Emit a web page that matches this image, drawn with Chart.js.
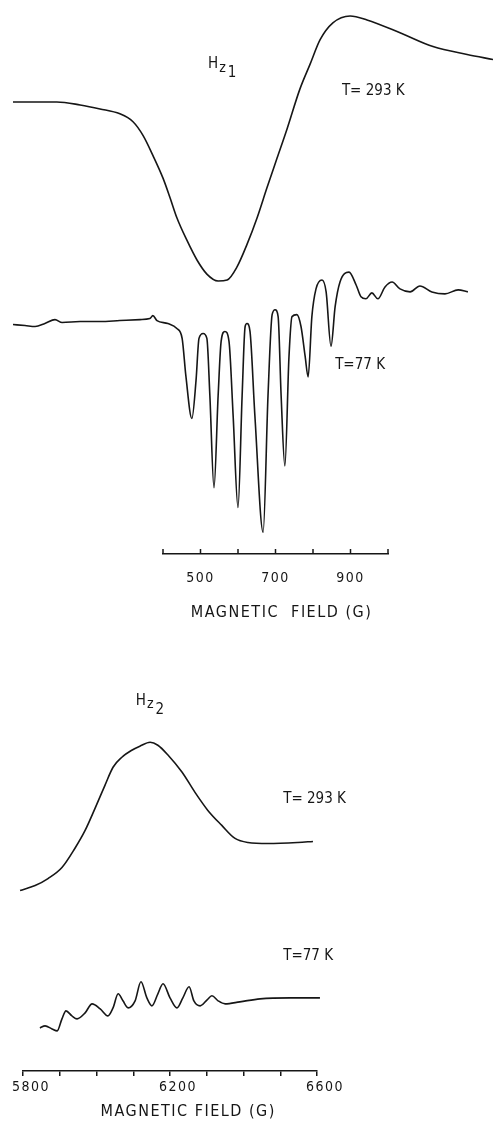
<!DOCTYPE html>
<html>
<head>
<meta charset="utf-8">
<title>EPR spectra Hz1 / Hz2</title>
<script src="https://cdn.jsdelivr.net/npm/chart.js@4.4.1/dist/chart.umd.min.js"></script>
<style>
  html, body { margin: 0; padding: 0; background: #fff; }
  body { width: 493px; height: 1121px; position: relative; overflow: hidden; }
  .panel { position: absolute; left: 0; width: 493px; }
  #top { top: 0; height: 640px; }
  #bottom { top: 640px; height: 481px; }
</style>
</head>
<body>
<div class="panel" id="top"><canvas id="hz1"></canvas></div>
<div class="panel" id="bottom"><canvas id="hz2"></canvas></div>
<script>
// Hz1 region, field in gauss, signal in arbitrary units (baseline = 0)
const hz1Field293 = [0, 117, 179, 232, 285, 320, 347, 373, 400, 419, 437, 464, 491, 517, 547, 571, 597, 624, 651, 677, 704, 731, 765, 792, 819, 853, 899, 944, 1032, 1120, 1211, 1280];
const hz1Signal293 = [0, 0, -0.3, -0.7, -1.2, -2.0, -3.4, -5.4, -7.7, -9.7, -11.7, -14.0, -16.0, -17.4, -18.1, -18.0, -16.7, -14.4, -11.7, -8.7, -5.7, -2.7, 1.3, 3.8, 6.3, 8.0, 8.7, 8.3, 7.0, 5.6, 4.8, 4.3];

const hz1Field77 = [0, 32, 59, 85, 112, 131, 179, 232, 285, 339, 365, 373, 384, 413, 437, 451, 461, 477, 488, 496, 507, 517, 525, 536, 547, 555, 565, 576, 587, 600, 611, 619, 624, 632, 645, 667, 680, 691, 699, 707, 715, 725, 736, 744, 757, 768, 779, 787, 797, 808, 824, 835, 848, 859, 872, 896, 915, 928, 941, 957, 973, 992, 1011, 1032, 1059, 1085, 1117, 1152, 1187, 1213];
const hz1Signal77 = [-0.3, -0.4, -0.5, -0.2, 0.2, -0.1, 0, 0, 0.1, 0.2, 0.3, 0.6, 0.1, -0.2, -0.7, -1.7, -5.5, -9.8, -6.0, -1.7, -1.2, -1.7, -7.5, -16.8, -7.5, -2.0, -1.0, -2.0, -9.5, -18.8, -7.5, -0.5, -0.2, -1.0, -9.5, -21.3, -7.5, 0.7, 1.2, 0.5, -7.5, -14.6, -3.5, 0.5, 0.7, -0.5, -3.5, -5.6, 0.5, 3.3, 4.2, 3.0, -2.5, 1.5, 4.0, 5.0, 3.7, 2.5, 2.3, 2.9, 2.3, 3.5, 4.0, 3.3, 3.0, 3.6, 3.0, 2.8, 3.2, 3.0];

// Hz2 region
const hz2Field293 = [5792, 5833, 5868, 5906, 5941, 5969, 5996, 6023, 6045, 6069, 6096, 6118, 6146, 6167, 6195, 6233, 6268, 6303, 6341, 6377, 6412, 6467, 6548, 6589];
const hz2Signal293 = [-4.7, -4.2, -3.5, -2.4, -0.5, 1.3, 3.5, 5.8, 7.6, 8.6, 9.3, 9.7, 10.1, 9.8, 8.8, 7.1, 5.1, 3.3, 1.8, 0.5, 0.1, 0, 0.1, 0.2];

const hz2Field77 = [5846, 5860, 5879, 5893, 5906, 5917, 5933, 5947, 5969, 5988, 6010, 6031, 6045, 6059, 6072, 6086, 6105, 6121, 6137, 6151, 6167, 6181, 6200, 6219, 6235, 6252, 6265, 6282, 6301, 6314, 6331, 6350, 6390, 6445, 6527, 6608];
const hz2Signal77 = [-3.0, -2.8, -3.1, -3.3, -2.1, -1.3, -1.8, -2.1, -1.5, -0.6, -1.1, -1.8, -1.0, 0.4, -0.3, -1.0, -0.3, 1.6, 0, -0.8, 0.4, 1.4, 0, -1.0, 0, 1.1, -0.3, -0.8, -0.2, 0.2, -0.3, -0.6, -0.4, -0.1, 0, 0];

// axis spans (the traces run past them) and the printed tick labels
const hz1Axis = [400, 1000];
const hz2Axis = [5800, 6600];
const hz1TickLabels = [500, 700, 900];
const hz2TickLabels = [5800, 6200, 6600];

// text notes: [text, subscripts, field, level, axis]
const hz1Notes = [
    ['H', ['z', '1'], 520, 3.8, 'y293'],
    ['T= 293 K', [], 877, 1.1, 'y293'],
    ['T=77 K', [], 859, -4.4, 'y77']
];
const hz2Notes = [
    ['H', ['z', '2'], 6107, 14.2, 'y293'],
    ['T= 293 K', [], 6508, 4.4, 'y293'],
    ['T=77 K', [], 6508, 4.2, 'y77']
];

const INK = '#161616';
const FONT = "'DejaVu Sans Condensed', 'DejaVu Sans', sans-serif";

function points(xs, ys) {
    return xs.map((x, i) => ({ x: x, y: ys[i] }));
}

function trace(xs, ys, axis) {
    return {
        data: points(xs, ys),
        yAxisID: axis,
        borderColor: INK,
        borderWidth: 1.6,
        pointRadius: 0,
        cubicInterpolationMode: 'monotone',
        clip: false,
        fill: false
    };
}

// draws the notes, and optionally tick marks pointing up into the plot
function notesPlugin(notes, upTicks) {
    return {
        id: 'notes',
        beforeDraw(chart) {
            chart.ctx.letterSpacing = '1.5px';
        },
        beforeDatasetsDraw(chart) {
            chart.ctx.letterSpacing = '0px';
        },
        afterDraw(chart) {
            const ctx = chart.ctx;
            const sx = chart.scales.x;
            ctx.save();
            ctx.fillStyle = INK;
            ctx.strokeStyle = INK;
            ctx.textBaseline = 'middle';
            ctx.textAlign = 'left';
            notes.forEach(n => {
                let px = sx.getPixelForValue(n[2]);
                const py = chart.scales[n[4]].getPixelForValue(n[3]);
                ctx.font = '15px ' + FONT;
                ctx.fillText(n[0], px, py);
                px += ctx.measureText(n[0]).width + 1;
                n[1].forEach((s, k) => {
                    ctx.font = (k === 0 ? '14px ' : '15px ') + FONT;
                    const dy = k === 0 ? 3.5 : 8.5;
                    ctx.fillText(s, px, py + dy);
                    px += ctx.measureText(s).width + 2;
                });
            });
            if (upTicks) {
                const b = chart.chartArea.bottom;
                ctx.lineWidth = 1.5;
                sx.ticks.forEach(t => {
                    const tx = sx.getPixelForValue(t.value);
                    ctx.beginPath();
                    ctx.moveTo(tx, b - 5);
                    ctx.lineTo(tx, b);
                    ctx.stroke();
                });
            }
            ctx.restore();
        }
    };
}

function fieldAxis(span, labels, title, grid, labelOffset, titleTop) {
    return {
        type: 'linear',
        // fix the span without clipping the traces that run past it
        afterDataLimits: s => { s.min = span[0]; s.max = span[1]; },
        border: { display: true, color: INK, width: 1.5 },
        grid: grid,
        ticks: {
            stepSize: 100,
            autoSkip: false,
            maxRotation: 0,
            padding: grid.display ? 3 : 8,
            labelOffset: labelOffset,
            color: INK,
            font: { family: FONT, size: 14 },
            callback: v => labels.includes(v) ? String(v) : ''
        },
        title: {
            display: true,
            text: title,
            color: INK,
            font: { family: FONT, size: 16 },
            padding: { top: titleTop, bottom: 0 }
        }
    };
}

new Chart(document.getElementById('hz1'), {
    type: 'line',
    data: {
        datasets: [
            trace(hz1Field293, hz1Signal293, 'y293'),
            trace(hz1Field77, hz1Signal77, 'y77')
        ]
    },
    options: {
        responsive: true,
        maintainAspectRatio: false,
        animation: false,
        layout: { padding: { left: 163, right: 105, top: 10, bottom: 18 } },
        plugins: { legend: { display: false }, tooltip: { enabled: false } },
        scales: {
            x: fieldAxis(hz1Axis, hz1TickLabels, '  MAGNETIC  FIELD (G)', { display: false }, 0, 8),
            y293: { type: 'linear', display: false, min: -45.7, max: 9.3 },
            y77: { type: 'linear', display: false, min: -23.5, max: 31.5 }
        }
    },
    plugins: [notesPlugin(hz1Notes, true)]
});

new Chart(document.getElementById('hz2'), {
    type: 'line',
    data: {
        datasets: [
            trace(hz2Field293, hz2Signal293, 'y293'),
            trace(hz2Field77, hz2Signal77, 'y77')
        ]
    },
    options: {
        responsive: true,
        maintainAspectRatio: false,
        animation: false,
        layout: { padding: { left: 23, right: 176, top: 10, bottom: 0 } },
        plugins: { legend: { display: false }, tooltip: { enabled: false } },
        scales: {
            x: fieldAxis(hz2Axis, hz2TickLabels, '      MAGNETIC FIELD (G)',
                { display: true, drawOnChartArea: false, drawTicks: true, tickLength: 5, color: INK, lineWidth: 1.5 }, 8, 3),
            y293: { type: 'linear', display: false, min: -22.7, max: 19.3 },
            y77: { type: 'linear', display: false, min: -7.3, max: 34.7 }
        }
    },
    plugins: [notesPlugin(hz2Notes, false)]
});
</script>
</body>
</html>
